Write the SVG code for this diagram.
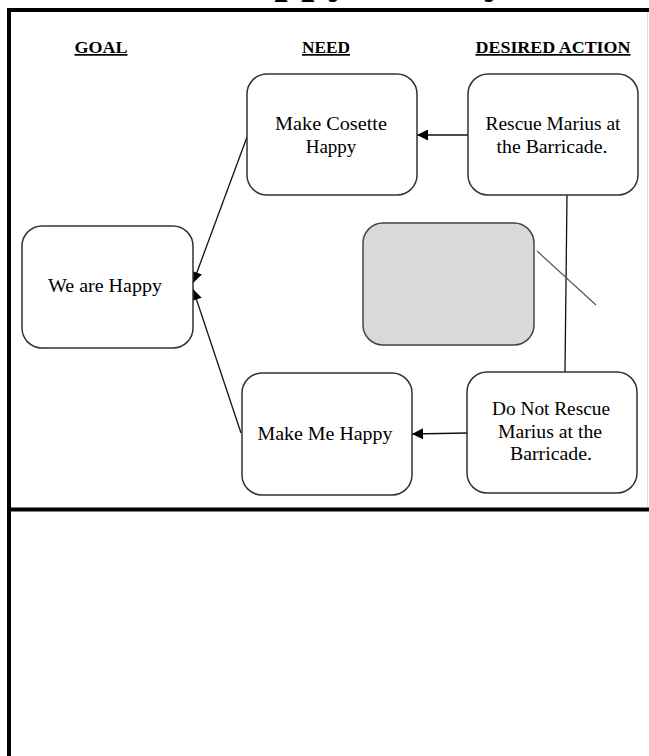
<svg xmlns="http://www.w3.org/2000/svg" width="649" height="756" viewBox="0 0 649 756">
<defs>
<style>
.box{fill:#fff;stroke:#333;stroke-width:1.5}
.grey{fill:#d9d9d9;stroke:#444;stroke-width:1.5}
.t{font-family:"Liberation Serif","Times New Roman",serif;font-size:19px;fill:#000;text-anchor:middle}
.h{font-family:"Liberation Serif","Times New Roman",serif;font-size:17px;font-weight:bold;fill:#000;text-anchor:middle;text-decoration:underline}
.frame{stroke:#000;stroke-width:4;fill:none}
.c{stroke:#111;stroke-width:1.3;fill:none}
</style>
<marker id="ah" viewBox="0 0 10 10" refX="10" refY="5" markerWidth="12" markerHeight="11" markerUnits="userSpaceOnUse" orient="auto">
<path d="M0,0 L10,5 L0,10 z" fill="#000"/>
</marker>
</defs>
<rect width="649" height="756" fill="#fff"/>
<text x="213" y="-8" font-family="Liberation Serif,serif" font-size="48" font-weight="bold">Happy Family</text>
<g id="frame">
<line class="frame" x1="9" y1="10" x2="649" y2="10"/>
<line class="frame" x1="9" y1="8" x2="9" y2="756"/>
<line class="frame" x1="9" y1="509.5" x2="649" y2="509.5"/>
<line x1="647.5" y1="12" x2="647.5" y2="507" stroke="#ddd" stroke-width="1"/>
</g>
<g id="headers">
<text class="h" x="101" y="53" textLength="53" lengthAdjust="spacingAndGlyphs">GOAL</text>
<text class="h" x="326" y="53" textLength="48" lengthAdjust="spacingAndGlyphs">NEED</text>
<text class="h" x="553" y="53" textLength="155" lengthAdjust="spacingAndGlyphs">DESIRED ACTION</text>
</g>
<g id="connectors">
<line class="c" x1="468" y1="135" x2="417" y2="135" marker-end="url(#ah)"/>
<line class="c" x1="467" y1="433" x2="412" y2="434" marker-end="url(#ah)"/>
<line class="c" x1="247" y1="137" x2="193" y2="283" marker-end="url(#ah)"/>
<line class="c" x1="241" y1="433" x2="193" y2="289" marker-end="url(#ah)"/>
<line class="c" x1="567" y1="195" x2="565" y2="372"/>
<line x1="537" y1="251" x2="596" y2="305" stroke="#555" stroke-width="1.2"/>
</g>
<g id="goal">
<rect class="box" x="22" y="226" width="171" height="122" rx="20"/>
<text class="t" x="105" y="292" textLength="114" lengthAdjust="spacingAndGlyphs">We are Happy</text>
</g>
<g id="need1">
<rect class="box" x="247" y="74" width="170" height="121" rx="20"/>
<text class="t" x="331" y="130" textLength="112" lengthAdjust="spacingAndGlyphs">Make Cosette</text>
<text class="t" x="331" y="153">Happy</text>
</g>
<g id="need2">
<rect class="box" x="242" y="373" width="170" height="122" rx="20"/>
<text class="t" x="325" y="440" textLength="135" lengthAdjust="spacingAndGlyphs">Make Me Happy</text>
</g>
<g id="action1">
<rect class="box" x="468" y="74" width="170" height="121" rx="20"/>
<text class="t" x="553" y="130" textLength="135" lengthAdjust="spacingAndGlyphs">Rescue Marius at</text>
<text class="t" x="552" y="153" textLength="111" lengthAdjust="spacingAndGlyphs">the Barricade.</text>
</g>
<g id="action2">
<rect class="box" x="467" y="372" width="170" height="121" rx="20"/>
<text class="t" x="551" y="415" textLength="118" lengthAdjust="spacingAndGlyphs">Do Not Rescue</text>
<text class="t" x="550" y="438" textLength="104" lengthAdjust="spacingAndGlyphs">Marius at the</text>
<text class="t" x="551" y="460" textLength="82" lengthAdjust="spacingAndGlyphs">Barricade.</text>
</g>
<g id="blank">
<rect class="grey" x="363" y="223" width="171" height="122" rx="20"/>
</g>
</svg>
